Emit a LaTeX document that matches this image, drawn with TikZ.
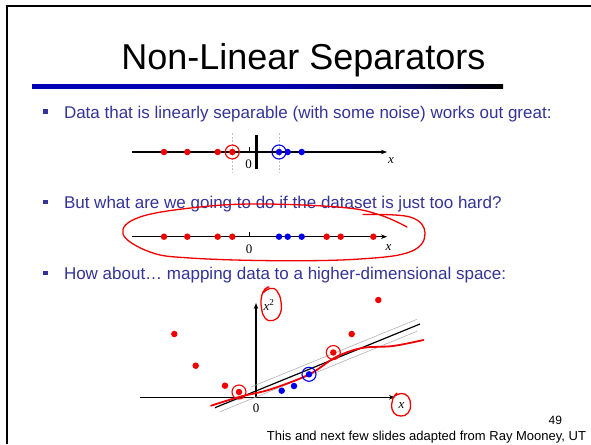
\documentclass[tikz,border=0pt]{standalone}
\usepackage{fontspec}
\setmainfont{Liberation Sans}
\newfontfamily\serifnum{Liberation Serif}
\usetikzlibrary{arrows.meta}
\definecolor{bultxt}{RGB}{51,51,153}
\definecolor{ptred}{RGB}{240,0,0}
\definecolor{ptblue}{RGB}{0,0,240}
\pgfdeclarehorizontalshading{rulesh}{100bp}{rgb(0bp)=(0,0,0.72); rgb(25bp)=(0,0,0.72); rgb(52bp)=(0,0,0.68); rgb(65bp)=(0,0,0.4); rgb(75bp)=(0,0,0); rgb(100bp)=(0,0,0)}
\begin{document}
\begin{tikzpicture}[x=1pt,y=-1pt,
  txt/.style={inner sep=0pt, outer sep=0pt},
  bul/.style={txt, anchor=base west, text=bultxt, font=\fontsize{17}{20}\selectfont},
  sq/.style={fill=bultxt, minimum size=4.5pt, inner sep=0pt},
  axisline/.style={line width=1.2pt, -{Stealth[length=6pt,width=4.5pt]}},
  rdot/.style={circle, fill=ptred, inner sep=0pt, minimum size=6.5pt},
  bdot/.style={circle, fill=ptblue, inner sep=0pt, minimum size=6.5pt},
  rring/.style={circle, draw=ptred, line width=1.1pt, inner sep=0pt, minimum size=14pt},
  bring/.style={circle, draw=ptblue, line width=1.1pt, inner sep=0pt, minimum size=14pt},
  lbl/.style={txt, font=\serifnum\fontsize{13}{15}\selectfont},
  ilbl/.style={txt, font=\serifnum\itshape\fontsize{13}{15}\selectfont},
  guide/.style={draw=black!25, line width=0.6pt, dash pattern=on 2pt off 1.5pt},
  margin/.style={draw=black!30, line width=0.6pt},
  ink/.style={draw=ptred, line width=1.3pt, line cap=round},
]
\useasboundingbox (0,0) rectangle (591,444);
% slide frame
\draw[line width=2pt] (7,444) -- (7,6.5) -- (591,6.5);
% title
\node[txt, anchor=base, font=\fontsize{36}{40}\selectfont] (title) at (303.4,69) {Non-Linear Separators};
\shade[shading=rulesh] (32,84) rectangle (503,88.5);
% bullets
\node[sq] (b1) at (45.5,111.7) {};
\node[bul] (t1) at (64,118.3) {Data that is linearly separable (with some noise) works out great:};
\node[sq] (b2) at (45.5,202) {};
\node[bul] (t2) at (64,208.3) {But what are we going to do if the dataset is just too hard?};
\node[sq] (b3) at (45.5,273.2) {};
\node[bul] (t3) at (64,279.5) {How about… mapping data to a higher-dimensional space:};

% ---------- diagram 1 ----------
\coordinate (a1s) at (132,152);
\coordinate (a1e) at (387,152);
\coordinate (g1t) at (232,133); \coordinate (g1b) at (232,173);
\coordinate (g2t) at (279,133); \coordinate (g2b) at (279,173);
\draw[guide] (g1t) -- (g1b);
\draw[guide] (g2t) -- (g2b);
\draw[axisline] (a1s) -- (a1e);
\coordinate (tk1a) at (249,147); \coordinate (tk1b) at (249,152);
\draw[line width=0.8pt] (tk1a) -- (tk1b);
\node[lbl] (z1) at (248.5,164) {0};
\node[ilbl] (x1) at (391,161) {x};
\coordinate (sep1a) at (256.5,135); \coordinate (sep1b) at (256.5,169);
\draw[line width=2.4pt] (sep1a) -- (sep1b);
\foreach \i/\xx in {1/164,2/187.3,3/217.7,4/232.3} \node[rdot] (d1r\i) at (\xx,152) {};
\foreach \i/\xx in {1/279,2/287.7,3/301.7} \node[bdot] (d1b\i) at (\xx,152) {};
\node[rring] (c1r) at (d1r4) {};
\node[bring] (c1b) at (d1b1) {};

% ---------- diagram 2 ----------
\coordinate (a2s) at (132,236.7);
\coordinate (a2e) at (387,236.7);
\draw[axisline] (a2s) -- (a2e);
\coordinate (tk2a) at (249,231.5); \coordinate (tk2b) at (249,236.7);
\draw[line width=0.8pt] (tk2a) -- (tk2b);
\node[lbl] (z2) at (249,249) {0};
\node[ilbl] (x2) at (388.5,248) {x};
\foreach \i/\xx in {1/164,2/187.3,3/217.7,4/232.3,5/326.7,6/340.7,7/373.3} \node[rdot] (d2r\i) at (\xx,236.7) {};
\foreach \i/\xx in {1/279,2/287.7,3/301.7} \node[bdot] (d2b\i) at (\xx,236.7) {};
\draw[ink] plot[smooth, tension=0.65] coordinates {(363,214.5) (410,217) (425,233) (411,251.5) (360,259) (277,260.7) (190,258) (150,252) (123,234) (140,217) (200,207) (262,204) (343,207.5) (380,215) (407,227)};

% ---------- diagram 3 ----------
\coordinate (a3s) at (140,397.3);
\coordinate (a3e) at (395,397.3);
\coordinate (a3o) at (256,397.3);
\coordinate (a3t) at (256,303);
\draw[axisline] (a3s) -- (a3e);
\draw[axisline] (a3o) -- (a3t);
\node[lbl] (z3) at (256,408.5) {0};
\node[ilbl] (x3) at (401.5,405.5) {x};
\node[lbl] (xsq) at (269,305) {\textit{x}\textsuperscript{2}};
% margins and separator
\coordinate (m1a) at (251,387); \coordinate (m1b) at (417,319.3);
\coordinate (m2a) at (220,411.7); \coordinate (m2b) at (417,331.3);
\coordinate (s3a) at (215,407.7); \coordinate (s3b) at (420,324);
\draw[margin] (m1a) -- (m1b);
\draw[margin] (m2a) -- (m2b);
\draw[line width=1.2pt] (s3a) -- (s3b);
% freehand red separator
\draw[draw=ptred, line width=1.8pt, line cap=round] plot[smooth, tension=0.55] coordinates {(211,405.7) (240,396.7) (270,389.5) (309,374.5) (336,357) (362,348) (393,346) (423.5,340)};
% points
\foreach \i/\xx/\yy in {1/174.3/334,2/195.7/365.7,3/225/385.7,4/239/392,5/333.3/352.5,6/351.7/334,7/378.3/300} \node[rdot] (d3r\i) at (\xx,\yy) {};
\foreach \i/\xx/\yy in {1/281.7/390.7,2/294/386,3/309/374.3} \node[bdot] (d3b\i) at (\xx,\yy) {};
\node[rring] (c3r1) at (d3r4) {};
\node[rring] (c3r2) at (d3r5) {};
\node[bring] (c3b) at (d3b3) {};
% hand-drawn loops around the axis labels
\draw[ink] plot[smooth, tension=0.8] coordinates {(263,293) (270,288.5) (277,291) (281,302) (280,314) (273,320.5) (265,318) (261.5,308) (261.5,297) (265,289) (269,287)};
\draw[ink] plot[smooth, tension=0.8] coordinates {(395,396) (401,393.5) (408,396.5) (410.5,405) (408,413) (401,416) (394,413) (391.5,405) (393,398) (397,393)};

% footer
\node[txt, anchor=base east, font=\fontsize{12}{14}\selectfont] (pg) at (562,424) {49};
\node[txt, anchor=base east, font=\fontsize{13}{15}\selectfont] (foot) at (586,440) {This and next few slides adapted from Ray Mooney, UT};
\end{tikzpicture}
\end{document}
